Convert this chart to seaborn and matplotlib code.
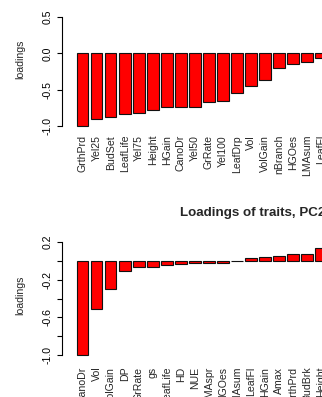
import matplotlib
matplotlib.use("Agg")
import matplotlib.pyplot as plt
import seaborn as sns
import pandas as pd

# PC1 trait loadings
pc1_traits = ["GrthPrd", "Yel25", "BudSet", "LeafLife", "Yel75", "Height",
              "HGain", "CanoDr", "Yel50", "GrRate", "Yel100", "LeafDrp",
              "Vol", "VolGain", "nBranch", "HGOes", "LMAsum", "LeafFl"]
pc1_loadings = [-1.0, -0.90, -0.88, -0.84, -0.82, -0.78,
                -0.74, -0.74, -0.745, -0.665, -0.66, -0.55,
                -0.45, -0.37, -0.205, -0.146, -0.125, -0.06]

# PC2 trait loadings
pc2_traits = ["CanoDr", "Vol", "VolGain", "DP", "GrRate", "gs",
              "LeafLife", "HD", "NUE", "LMAspr", "HGOes", "LMAsum",
              "LeafFl", "HGain", "Amax", "GrthPrd", "BudBrk", "Height"]
pc2_loadings = [-1.0, -0.51, -0.30, -0.105, -0.065, -0.065,
                -0.04, -0.03, -0.025, -0.025, -0.025, 0.003,
                0.028, 0.04, 0.05, 0.07, 0.07, 0.14]

pc1_ticks = [-1.0, -0.5, 0.0, 0.5]
pc1_ticklabels = ["-1.0", "-0.5", "0.0", "0.5"]
pc2_ticks = [-1.0, -0.8, -0.6, -0.4, -0.2, 0.0, 0.2]
pc2_ticklabels = ["-1.0", "", "-0.6", "", "-0.2", "", "0.2"]

sns.set_style("white")
plt.rcParams["font.family"] = ["Liberation Sans", "DejaVu Sans"]

W, H = 322, 397
fig = plt.figure(figsize=(W / 100, H / 100), dpi=100)


def px_axes(left, right, top, bottom):
    return fig.add_axes([left / W, 1 - bottom / H, (right - left) / W, (bottom - top) / H])


def draw_panel(ax, traits, values, ylim, ticks, ticklabels, spine_lo, spine_hi, xpad):
    df = pd.DataFrame({"trait": traits, "loading": values})
    sns.barplot(data=df, x="trait", y="loading", ax=ax, color="#ff0000",
                saturation=1, width=0.833, edgecolor="#111111", linewidth=0.8)
    ax.set_xlim(-1.464, 17.055)
    ax.set_ylim(*ylim)
    ax.set_xlabel("")
    ax.set_ylabel("")
    for s in ["top", "right", "bottom"]:
        ax.spines[s].set_visible(False)
    ax.spines["left"].set_bounds(spine_lo, spine_hi)
    ax.spines["left"].set_linewidth(0.8)
    ax.spines["left"].set_color("black")
    ax.set_yticks(ticks)
    ax.set_yticklabels(ticklabels, rotation=90, va="center", fontsize=7.6)
    ax.tick_params(axis="y", left=True, length=3.6, width=0.8, pad=3, colors="black")
    ax.tick_params(axis="x", bottom=False, length=0, pad=xpad, labelsize=7.6,
                   labelrotation=90)
    for lab in ax.get_xticklabels():
        lab.set_va("top")
        lab.set_ha("center")
    ax.set_facecolor("white")
    ax.grid(False)


ax1 = px_axes(62, 322, 12.64, 130.36)
draw_panel(ax1, pc1_traits, pc1_loadings, (-1.06, 0.56), pc1_ticks, pc1_ticklabels,
           -1.0, 0.5, 3.3)

ax2 = px_axes(62, 322, 237.3, 359.7)
draw_panel(ax2, pc2_traits, pc2_loadings, (-1.05, 0.25), pc2_ticks, pc2_ticklabels,
           -1.0, 0.2, 5.0)

fig.text(20 / W, 1 - 59 / H, "loadings", rotation=90, ha="center", va="center", fontsize=7.6)
fig.text(20 / W, 1 - 295 / H, "loadings", rotation=90, ha="center", va="center", fontsize=7.6)
fig.text(180 / W, 1 - 213 / H, "Loadings of traits, PC2", ha="left", va="center",
         fontsize=9.6, fontweight="bold")

fig.savefig("out.png", dpi=100, facecolor="white")
